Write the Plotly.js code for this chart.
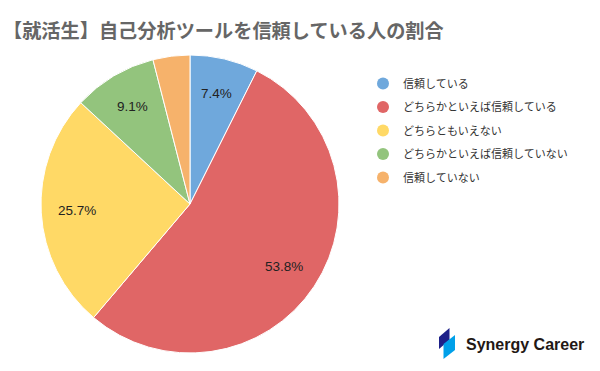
<!DOCTYPE html>
<html>
<head>
<meta charset="utf-8">
<script src="https://cdn.plot.ly/plotly-3.0.1.min.js"></script>
<style>html,body{margin:0;padding:0;background:#fff;}#chart{width:600px;height:371px;}</style>
</head>
<body>
<div id="chart"></div>
<script>
const categories = ["信頼している", "どちらかといえば信頼している", "どちらともいえない", "どちらかといえば信頼していない", "信頼していない"];
const values = [7.4, 53.8, 25.7, 9.1, 4.0];
const showLabel = [true, true, true, true, false];
const colors = ["#6fa8dc", "#e06666", "#ffd966", "#93c47d", "#f6b26b"];
const titleText = "【就活生】自己分析ツールを信頼している人の割合";
const brandText = "Synergy Career";

const W = 600, H = 371;
const pieLeft = 41, pieRight = 339, pieTop = 55, pieBottom = 353;
const domX = [pieLeft / W, pieRight / W];
const domY = [(H - pieBottom) / H, (H - pieTop) / H];
const cxPx = (pieLeft + pieRight) / 2, cyPx = (pieTop + pieBottom) / 2, R = (pieRight - pieLeft) / 2;

const traces = [{
  type: "pie",
  values: values,
  labels: categories,
  sort: false,
  direction: "clockwise",
  rotation: 0,
  marker: {colors: colors, line: {color: "#ffffff", width: 1}},
  textinfo: "none",
  hoverinfo: "label+percent",
  showlegend: false,
  domain: {x: domX, y: domY}
}];
categories.forEach((c, i) => {
  traces.push({
    type: "scatter", x: [null], y: [null], mode: "markers", name: c,
    marker: {symbol: "circle", size: 12, color: colors[i]},
    legendgroup: "g" + i, showlegend: true, hoverinfo: "skip"
  });
});

const total = values.reduce((a, b) => a + b, 0);
const annotations = [];
let cum = 0;
values.forEach((v, i) => {
  const mid = (cum + v / 2) / total;
  cum += v;
  if (!showLabel[i]) return;
  const th = 2 * Math.PI * mid;
  const r = 0.76 * R;
  annotations.push({
    xref: "paper", yref: "paper",
    x: (cxPx + r * Math.sin(th)) / W,
    y: (H - (cyPx - r * Math.cos(th))) / H,
    text: (v.toFixed(1)) + "%",
    showarrow: false, xanchor: "center", yanchor: "middle",
    font: {family: "Liberation Sans, Arial, sans-serif", size: 13.5, color: "#222222"}
  });
});
annotations.push({
  xref: "paper", yref: "paper", x: 464 / W, y: (H - 344) / H,
  xanchor: "left", yanchor: "middle", showarrow: false,
  text: "<b>" + brandText + "</b>",
  font: {family: "Liberation Sans, Arial, sans-serif", size: 16, color: "#231815"}
});

const layout = {
  width: W, height: H,
  margin: {l: 0, r: 0, t: 0, b: 0},
  paper_bgcolor: "#ffffff", plot_bgcolor: "#ffffff",
  title: {
    text: titleText, x: 3 / W, xanchor: "left", xref: "paper",
    y: (H - 31) / H, yanchor: "middle",
    font: {family: "Noto Sans CJK JP, sans-serif", size: 19.2, color: "#666666", weight: "bold"}
  },
  xaxis: {visible: false}, yaxis: {visible: false},
  showlegend: true,
  legend: {
    x: 363 / W, xanchor: "left", y: (H - 69) / H, yanchor: "top",
    font: {family: "Noto Sans CJK JP, sans-serif", size: 11, color: "#333333"},
    tracegroupgap: 4.5, bgcolor: "rgba(0,0,0,0)"
  },
  annotations: annotations,
  shapes: [
    {type: "path", xref: "paper", yref: "paper",
     path: "M " + (439/W) + "," + ((H-337)/H) + " L " + (449.5/W) + "," + ((H-328)/H) + " L " + (449.5/W) + "," + ((H-340)/H) + " L " + (439/W) + "," + ((H-349)/H) + " Z",
     fillcolor: "#1d2088", line: {width: 0}},
    {type: "path", xref: "paper", yref: "paper",
     path: "M " + (443.5/W) + "," + ((H-344)/H) + " L " + (455/W) + "," + ((H-335)/H) + " L " + (455/W) + "," + ((H-350)/H) + " L " + (443.5/W) + "," + ((H-359)/H) + " Z",
     fillcolor: "#00a0e9", line: {width: 0}}
  ]
};

Plotly.newPlot("chart", traces, layout, {staticPlot: true, displayModeBar: false});
</script>
</body>
</html>
